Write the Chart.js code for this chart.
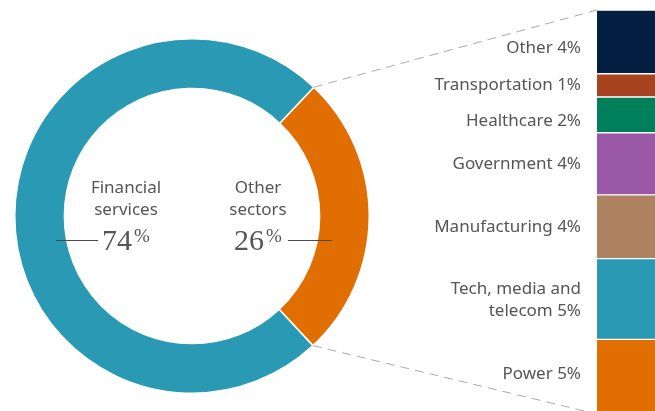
<!DOCTYPE html>
<html>
<head>
<meta charset="utf-8">
<script src="https://cdn.jsdelivr.net/npm/chart.js@4"></script>
<style>
  html, body { margin: 0; padding: 0; background: #fff; }
  #wrap { position: relative; width: 655px; height: 411px; overflow: hidden; }
  #wrap canvas { position: absolute; left: 0; top: 0; }
</style>
</head>
<body>
<div id="wrap">
  <canvas id="donut" width="655" height="416"></canvas>
  <canvas id="stack" width="655" height="416"></canvas>
</div>
<script>
// Donut: main split
const splitLabels = ['Other sectors', 'Financial services'];
const splitValues = [26, 74];
const splitColors = ['#E06E00', '#2A9AB4'];

// Breakdown of other sectors (bottom to top)
const sectorNames  = ['Power', 'Tech, media and|telecom', 'Manufacturing', 'Government', 'Healthcare', 'Transportation', 'Other'];
const sectorShown  = [5, 5, 4, 4, 2, 1, 4];           // percentages printed in labels
const sectorValues = [4.8, 5.2, 4.1, 4.0, 2.3, 1.5, 4.1]; // bar heights
const sectorColors = ['#E06E00', '#2A9AB4', '#AD8362', '#9A58A6', '#00805A', '#A8431F', '#041E42'];

const labelFont = '17px "Noto Sans", "DejaVu Sans", sans-serif';
const textColor = '#555';

let donutChart;

const donutText = {
  id: 'donutText',
  afterDraw(chart) {
    const ctx = chart.ctx;
    const arc = chart.getDatasetMeta(0).data[0];
    const cx = arc.x, cy = arc.y;
    ctx.save();
    ctx.fillStyle = textColor;
    ctx.font = labelFont;
    ctx.textAlign = 'center';
    ctx.textBaseline = 'middle';
    ctx.fillText('Financial', cx - 66, cy - 28);
    ctx.fillText('services', cx - 66, cy - 6);
    ctx.fillText('Other', cx + 66, cy - 28);
    ctx.fillText('sectors', cx + 66, cy - 6);

    // big numbers
    const drawPct = (num, x) => {
      ctx.font = '30px "Liberation Serif", "DejaVu Serif", serif';
      ctx.textAlign = 'left';
      ctx.textBaseline = 'alphabetic';
      const w = ctx.measureText(num).width;
      ctx.font = '19px "Liberation Serif", "DejaVu Serif", serif';
      const wp = ctx.measureText('%').width;
      const x0 = x - (w + wp + 2) / 2;
      ctx.font = '30px "Liberation Serif", "DejaVu Serif", serif';
      ctx.fillText(num, x0, cy + 34);
      ctx.font = '19px "Liberation Serif", "DejaVu Serif", serif';
      ctx.fillText('%', x0 + w + 2, cy + 26);
      return [x0, x0 + w + wp + 2];
    };
    const left = drawPct(String(splitValues[1]), cx - 66);
    const right = drawPct(String(splitValues[0]), cx + 66);

    ctx.strokeStyle = '#4a4a4a';
    ctx.lineWidth = 1.2;
    ctx.beginPath();
    ctx.moveTo(cx - 136, cy + 24.5);
    ctx.lineTo(left[0] - 4, cy + 24.5);
    ctx.moveTo(right[1] + 6, cy + 24.5);
    ctx.lineTo(cx + 140, cy + 24.5);
    ctx.stroke();
    ctx.restore();
  }
};

donutChart = new Chart(document.getElementById('donut'), {
  type: 'doughnut',
  data: {
    labels: splitLabels,
    datasets: [{
      data: splitValues,
      backgroundColor: splitColors,
      borderColor: '#fff',
      borderWidth: 1.5,
    }]
  },
  options: {
    responsive: false,
    animation: false,
    rotation: 43.4,
    cutout: '72%',
    layout: { padding: { left: 14, right: 285, top: 38, bottom: 22 } },
    plugins: { legend: { display: false }, tooltip: { enabled: false } }
  },
  plugins: [donutText]
});

const stackDecor = {
  id: 'stackDecor',
  afterDraw(chart) {
    const ctx = chart.ctx;
    ctx.save();

    // dashed connectors from the orange arc to the bar
    const arc = donutChart.getDatasetMeta(0).data[0];
    const R = arc.outerRadius;
    const topBar = chart.getDatasetMeta(sectorValues.length - 1).data[0];
    const botBar = chart.getDatasetMeta(0).data[0];
    const barLeft = topBar.x - topBar.width / 2;
    ctx.strokeStyle = '#aaa';
    ctx.lineWidth = 1;
    ctx.setLineDash([9, 6]);
    ctx.beginPath();
    ctx.moveTo(arc.x + Math.cos(arc.startAngle) * R, arc.y + Math.sin(arc.startAngle) * R);
    ctx.lineTo(barLeft, topBar.y);
    ctx.moveTo(arc.x + Math.cos(arc.endAngle) * R, arc.y + Math.sin(arc.endAngle) * R);
    ctx.lineTo(barLeft, botBar.base);
    ctx.stroke();
    ctx.setLineDash([]);

    // segment labels
    ctx.fillStyle = textColor;
    ctx.font = labelFont;
    ctx.textAlign = 'right';
    ctx.textBaseline = 'middle';
    const nudge = [-3, 0, 0, 0, 6, 0, 6];
    sectorNames.forEach((name, i) => {
      const bar = chart.getDatasetMeta(i).data[0];
      const mid = (bar.y + bar.base) / 2 + nudge[i];
      const lines = (name + ' ' + sectorShown[i] + '%').split('|');
      const x = barLeft - 16;
      if (lines.length === 1) {
        ctx.fillText(lines[0], x, mid);
      } else {
        ctx.fillText(lines[0], x, mid - 10);
        ctx.fillText(lines[1], x, mid + 12);
      }
    });
    ctx.restore();
  }
};

new Chart(document.getElementById('stack'), {
  type: 'bar',
  data: {
    labels: [''],
    datasets: sectorNames.map((n, i) => ({
      label: n.replace('|', ' '),
      data: [sectorValues[i]],
      backgroundColor: sectorColors[i],
      borderColor: '#fff',
      borderWidth: { top: 1, bottom: 1, left: 0, right: 0 },
      borderSkipped: false,
      barPercentage: 1,
      categoryPercentage: 1,
    }))
  },
  options: {
    responsive: false,
    animation: false,
    layout: { padding: { left: 597, right: 0, top: 10, bottom: 2 } },
    scales: {
      x: { stacked: true, display: false },
      y: { stacked: true, display: false, min: 0, max: 26 }
    },
    plugins: { legend: { display: false }, tooltip: { enabled: false } }
  },
  plugins: [stackDecor]
});
</script>
</body>
</html>
